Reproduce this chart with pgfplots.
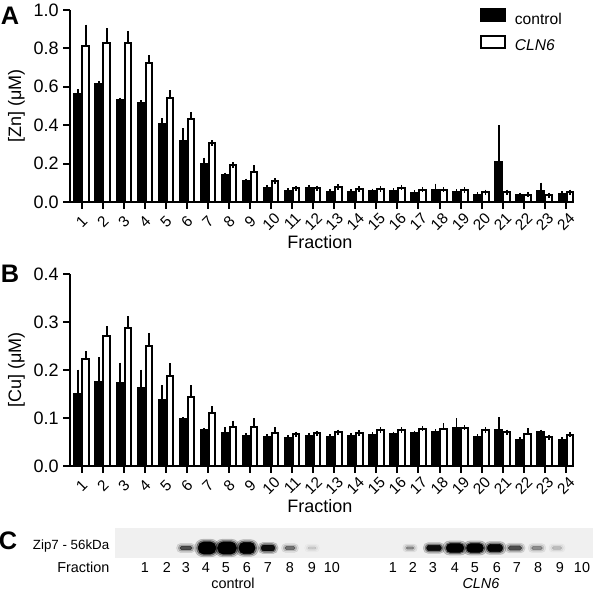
\documentclass[border=0pt]{standalone}
\usepackage{fontspec}
\setmainfont{Liberation Sans}
\usepackage{pgfplots}
\pgfplotsset{compat=1.18}
\usepackage{pgfplotstable}

\pgfplotstableread{
f cm ce nm ne
1 0.560 0.014 0.810 0.100
2 0.617 0.000 0.826 0.066
3 0.530 0.000 0.826 0.052
4 0.517 0.000 0.722 0.029
5 0.405 0.018 0.544 0.025
6 0.318 0.051 0.430 0.026
7 0.197 0.020 0.308 0.000
8 0.139 0.000 0.193 0.000
9 0.108 0.000 0.157 0.020
10 0.075 0.000 0.110 0.000
11 0.057 0.000 0.072 0.000
12 0.075 0.000 0.072 0.000
13 0.052 0.000 0.078 0.000
14 0.052 0.000 0.068 0.000
15 0.056 0.000 0.068 0.000
16 0.058 0.000 0.075 0.000
17 0.048 0.000 0.065 0.000
18 0.064 0.018 0.064 0.000
19 0.052 0.000 0.062 0.000
20 0.038 0.000 0.050 0.000
21 0.210 0.175 0.050 0.000
22 0.035 0.000 0.038 0.000
23 0.057 0.030 0.035 0.000
24 0.043 0.000 0.050 0.000
}\zn

\pgfplotstableread{
f cm ce nm ne
1 0.151 0.044 0.223 0.010
2 0.176 0.045 0.271 0.015
3 0.172 0.038 0.287 0.019
4 0.162 0.033 0.250 0.022
5 0.138 0.025 0.188 0.020
6 0.097 0.000 0.144 0.019
7 0.074 0.000 0.110 0.009
8 0.068 0.007 0.082 0.007
9 0.063 0.000 0.082 0.012
10 0.061 0.000 0.069 0.006
11 0.059 0.000 0.066 0.000
12 0.063 0.000 0.068 0.000
13 0.061 0.000 0.070 0.000
14 0.063 0.000 0.069 0.000
15 0.065 0.000 0.075 0.000
16 0.066 0.000 0.075 0.000
17 0.068 0.000 0.078 0.000
18 0.071 0.000 0.078 0.006
19 0.080 0.014 0.080 0.000
20 0.061 0.000 0.075 0.000
21 0.075 0.021 0.070 0.000
22 0.054 0.000 0.067 0.006
23 0.070 0.000 0.060 0.000
24 0.054 0.000 0.065 0.000
}\cu

% blot bands: lane x (px), y, half width (pt), half height (pt), intensity
\pgfplotstableread{
x y rx ry k
186 0.333 4.5 1.4 0.55
207 0.333 6.6 4.6 1
227 0.333 7.0 4.6 1
247 0.333 6.0 4.3 1
268 0.333 5.0 2.2 0.9
290 0.333 3.8 1.2 0.4
312 0.333 3.0 0.9 0.1
410 0.333 2.8 0.9 0.3
434 0.333 5.5 2.0 0.9
455 0.333 6.5 3.3 1
475 0.333 6.2 3.3 1
495 0.333 5.7 2.8 0.97
515 0.333 5.0 1.6 0.55
537 0.333 4.0 1.3 0.3
557 0.333 3.5 1.1 0.15
}\blot

\pgfplotsset{
  /pgf/number format/assume math mode=true,
  panel/.style={
    scale only axis, width=378pt, height=144pt,
    xmin=0.444, xmax=24.39, ymin=0,
    axis x line*=bottom, axis y line*=left,
    axis line style={line width=1.5pt,-},
    every tick/.style={black, line width=1.5pt},
    major tick length=5pt, tick align=outside,
    xtick={1,...,24},
    yticklabel style={font=\fontsize{13.5}{15}\selectfont},
    xticklabel style={font=\fontsize{11.5}{13}\selectfont, rotate=45, anchor=center, inner sep=1pt},
    xticklabel shift=9.5pt,
    y tick label style={/pgf/number format/fixed, /pgf/number format/fixed zerofill, /pgf/number format/precision=1},
    ybar, bar width=0.31,
    xlabel={Fraction},
    xlabel style={font=\fontsize{13.5}{15}\selectfont, at={(rel axis cs:0.496,-0.21)}, anchor=center, inner sep=1pt},
    ylabel style={font=\fontsize{13.5}{15}\selectfont, at={(rel axis cs:-0.106,0.5)}, anchor=center},
    clip=false,
  },
  ctl/.style={fill=black, draw=black, line width=1.5pt, bar shift=-0.19,
    legend image code/.code={\draw[fill=black, draw=black, line width=1.5pt] (0pt,-1pt) rectangle (17.5pt,8pt);},
    error bars/.cd, y dir=plus, y explicit, error mark=-, error bar style={line width=1.3pt}, error mark options={line width=1.3pt, mark size=2pt}},
  cln/.style={fill=white, draw=black, line width=1.5pt, bar shift=0.19,
    legend image code/.code={\draw[fill=white, draw=black, line width=1.5pt] (0pt,-1pt) rectangle (17.5pt,8pt);},
    error bars/.cd, y dir=plus, y explicit, error mark=-, error bar style={line width=1.3pt}, error mark options={line width=1.3pt, mark size=2pt}},
}

\begin{document}
\begin{tikzpicture}
\useasboundingbox (-52.5pt,-292.5pt) rectangle (397.5pt,151.5pt);

\begin{axis}[panel, at={(0pt,0pt)}, anchor=south west,
  ymax=1.0, ytick={0,0.2,0.4,0.6,0.8,1.0},
  ylabel={[Zn] (μM)},
  legend style={at={(rel axis cs:0.8135,1.01)}, anchor=north west, draw=none, fill=none, inner sep=0pt,
    font=\fontsize{11.7}{13}\selectfont, row sep=4pt, /tikz/every odd column/.append style={column sep=5pt}},
  legend cell align=left]
\addplot[ctl] table[x=f, y=cm, y error=ce] {\zn};
\addplot[cln] table[x=f, y=nm, y error=ne] {\zn};
\legend{control, \textit{CLN6}}
\node[font=\bfseries\fontsize{19}{20}\selectfont] at (rel axis cs:-0.119,0.969) {A};
\end{axis}

\begin{axis}[panel, at={(0pt,-198pt)}, anchor=south west,
  ymax=0.4, ytick={0,0.1,0.2,0.3,0.4},
  ylabel={[Cu] (μM)}]
\addplot[ctl] table[x=f, y=cm, y error=ce] {\cu};
\addplot[cln] table[x=f, y=nm, y error=ne] {\cu};
\node[font=\bfseries\fontsize{19}{20}\selectfont] at (rel axis cs:-0.119,1.0) {B};
\end{axis}

\begin{axis}[at={(33.75pt,-267pt)}, anchor=south west, scale only axis,
  width=358.5pt, height=22.5pt, xmin=115, xmax=593, ymin=0, ymax=1,
  axis line style={draw=none}, axis background/.style={fill=black!6},
  xtick={145,167,186,206,226,247,268,290,312,332,393,413,433,455,475,497,517,538,560,582},
  xticklabels={1,2,3,4,5,6,7,8,9,10,1,2,3,4,5,6,7,8,9,10},
  major tick length=0pt, ytick=\empty, clip=false,
  ticklabel style={font=\fontsize{10.8}{12}\selectfont}]
\addplot[scatter, only marks, mark=*, mark size=0pt, mark options={draw=none, fill=none},
  visualization depends on={\thisrow{rx} \as \brx},
  visualization depends on={\thisrow{ry} \as \bry},
  visualization depends on={\thisrow{k} \as \bk},
  scatter/@pre marker code/.code={%
    \pgfmathsetmacro\bka{0.18*\bk}%
    \pgfmathsetmacro\bkb{0.35*\bk}%
    \fill[black, opacity=\bka, rounded corners=\bry pt+1.5pt] (-\brx pt-2.5pt,-\bry pt-2pt) rectangle (\brx pt+2.5pt,\bry pt+2pt);%
    \fill[black, opacity=\bkb, rounded corners=\bry pt+0.8pt] (-\brx pt-1.2pt,-\bry pt-1pt) rectangle (\brx pt+1.2pt,\bry pt+1pt);%
    \fill[black, opacity=\bk, rounded corners=0.9*\bry pt] (-\brx pt,-\bry pt) rectangle (\brx pt,\bry pt);%
  },
  scatter/@post marker code/.code={}]
  table[x=x, y=y] {\blot};
\node[font=\bfseries\fontsize{19}{20}\selectfont] at (axis cs:8,0.567) {C};
\node[anchor=east, font=\fontsize{10}{12}\selectfont] at (axis cs:114,0.4) {Zip7 - 56kDa};
\node[anchor=base east, font=\fontsize{10.8}{12}\selectfont] at (axis cs:114,-0.467) {Fraction};
\node[anchor=base, font=\fontsize{10.8}{12}\selectfont] at (axis cs:233,-1.0) {control};
\node[anchor=base, font=\fontsize{10.8}{12}\selectfont\itshape] at (axis cs:481,-1.0) {CLN6};
\end{axis}
\end{tikzpicture}
\end{document}
